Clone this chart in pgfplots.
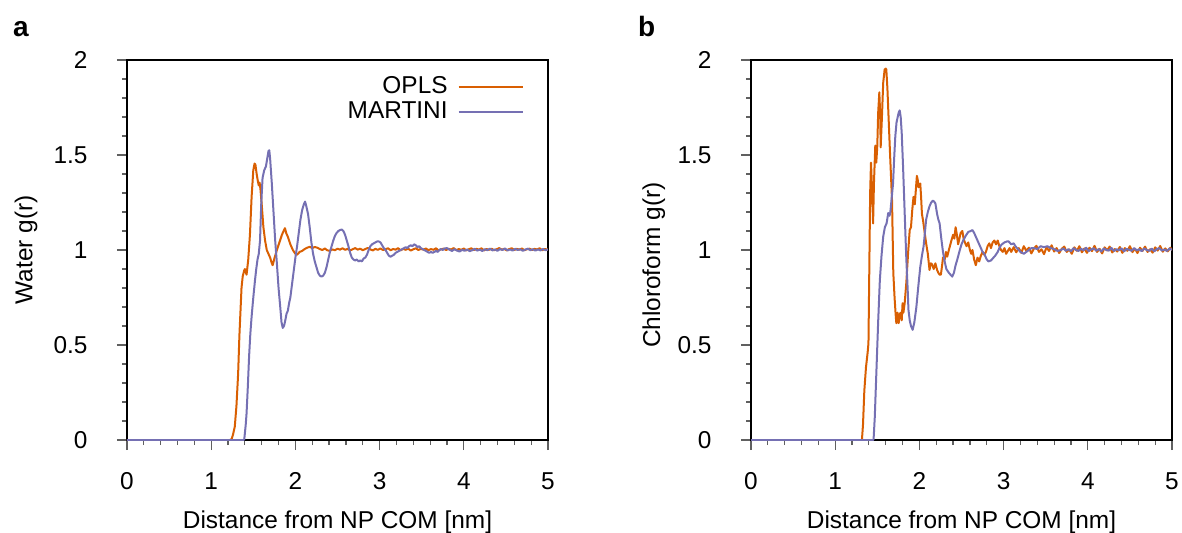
\documentclass[border=0pt]{standalone}
\usepackage{fontspec}
\setmainfont{Liberation Sans}
\usepackage{pgfplots}
\pgfplotsset{compat=1.18}
\definecolor{opls}{HTML}{D95F02}
\definecolor{martini}{HTML}{7570B3}
\pgfplotsset{
  gr/.style={
    scale only axis, width=210.5pt, height=190pt,
    xmin=0, xmax=5, ymin=0, ymax=2,
    xtick={0,1,2,3,4,5}, ytick={0,0.5,1,1.5,2},
    minor x tick num=4, minor y tick num=4,
    tick align=outside, tick pos=left,
    major tick length=5pt, minor tick length=2.5pt,
    tick style={gray!75!black, line width=0.6pt},
    axis line style={line width=0.75pt, black},
    /pgf/number format/assume math mode=true,
    xticklabel style={yshift=-7pt},
    yticklabel style={xshift=-10.5pt},
    xlabel={Distance from NP COM [nm]},
    xlabel style={at={(axis description cs:0.5,-0.2316)}, anchor=base},
    every axis plot/.append style={line width=1pt, line join=round},
  }
}
\begin{document}
\fontsize{12.2}{14.6}\selectfont
\begin{tikzpicture}
\useasboundingbox (-63.5pt,-46pt) rectangle (527.5pt,220pt);
\begin{axis}[gr, at={(0pt,0pt)}, anchor=south west,
  ylabel={Water g(r)},
  ylabel style={at={(axis description cs:-0.240,0.5)}, anchor=center},
  legend style={draw=none, fill=none, at={(rel axis cs:1,1)}, anchor=north east,
    xshift=-9pt, yshift=-4pt, legend cell align=right, row sep=-1.5pt,
    font=\fontsize{12.2}{14.6}\selectfont},
  legend plot pos=right,
  legend image code/.code={\path (0pt,0pt); \draw[#1, line width=1pt] (3pt,0pt) -- (35pt,0pt);},
]
\addplot[opls] table {
0 0
1.22 0
1.243 0.005
1.26 0.03
1.28 0.07
1.30 0.18
1.32 0.35
1.335 0.55
1.35 0.70
1.36 0.80
1.374 0.86
1.39 0.89
1.40 0.90
1.42 0.87
1.44 0.95
1.46 1.08
1.48 1.28
1.50 1.42
1.515 1.455
1.525 1.45
1.54 1.40
1.555 1.36
1.565 1.34
1.575 1.355
1.585 1.32
1.60 1.24
1.62 1.12
1.64 1.05
1.66 1.00
1.68 0.98
1.70 0.96
1.72 0.93
1.73 0.92
1.75 0.955
1.78 1.00
1.81 1.04
1.84 1.08
1.86 1.10
1.876 1.115
1.89 1.09
1.91 1.07
1.94 1.03
1.97 1.00
2.00 0.98
2.02 0.975
2.05 0.99
2.08 0.995
2.11 1.005
2.14 1.012
2.17 1.017
2.20 1.010
2.23 1.016
2.26 1.012
2.29 1.005
2.32 1.000
2.35 1.008
2.38 0.998
2.41 0.996
2.44 1.003
2.47 0.999
2.50 1.007
2.53 1.002
2.56 1.009
2.59 1.001
2.62 1.006
2.65 0.998
2.68 1.004
2.71 1.010
2.74 1.002
2.77 1.007
2.80 0.999
2.83 1.005
2.86 1.011
2.89 1.003
2.92 0.998
2.95 1.006
2.98 1.001
3.01 1.008
3.04 1.000
3.07 1.004
3.10 1.009
3.13 0.999
3.16 1.005
3.19 1.002
3.22 1.010
3.25 0.998
3.28 1.006
3.31 1.001
3.34 1.007
3.37 0.997
3.40 1.004
3.43 1.009
3.46 1.000
3.49 1.006
3.52 1.002
3.55 1.008
3.58 0.999
3.61 1.005
3.64 1.001
3.67 1.009
3.70 0.998
3.73 1.004
3.76 1.007
3.79 1.000
3.82 1.006
3.85 1.003
3.88 1.010
3.91 0.999
3.94 1.005
3.97 1.001
4.00 1.008
4.03 0.998
4.06 1.004
4.09 1.009
4.12 1.000
4.15 1.006
4.18 1.002
4.21 1.009
4.24 0.998
4.27 1.005
4.30 1.001
4.33 1.007
4.36 0.999
4.39 1.004
4.42 1.010
4.45 1.002
4.48 1.006
4.51 0.998
4.54 1.005
4.57 1.009
4.60 1.000
4.63 1.006
4.66 1.002
4.69 1.008
4.72 0.999
4.75 1.004
4.78 1.007
4.81 1.000
4.84 1.006
4.87 1.003
4.90 1.009
4.93 0.999
4.96 1.005
5.00 1.002
};
\addlegendentry{OPLS}
\addplot[martini] table {
0 0
1.385 0
1.393 0.005
1.41 0.08
1.42 0.14
1.435 0.28
1.45 0.44
1.465 0.56
1.48 0.65
1.50 0.75
1.52 0.84
1.535 0.90
1.55 0.95
1.565 0.98
1.58 1.05
1.595 1.25
1.61 1.38
1.63 1.42
1.65 1.44
1.665 1.48
1.68 1.52
1.69 1.525
1.70 1.48
1.72 1.35
1.74 1.20
1.76 1.05
1.78 0.93
1.80 0.80
1.82 0.70
1.835 0.62
1.85 0.59
1.865 0.60
1.88 0.63
1.895 0.665
1.91 0.68
1.925 0.72
1.94 0.75
1.96 0.82
1.98 0.89
2.00 0.96
2.02 1.02
2.04 1.09
2.06 1.16
2.08 1.21
2.10 1.24
2.115 1.255
2.13 1.23
2.15 1.19
2.17 1.12
2.19 1.04
2.21 0.98
2.23 0.94
2.25 0.91
2.27 0.88
2.29 0.865
2.31 0.86
2.33 0.865
2.35 0.88
2.37 0.91
2.39 0.95
2.41 0.99
2.43 1.02
2.45 1.05
2.47 1.075
2.49 1.09
2.51 1.10
2.53 1.105
2.55 1.108
2.57 1.10
2.59 1.08
2.61 1.05
2.63 1.02
2.65 0.985
2.67 0.96
2.69 0.95
2.71 0.945
2.73 0.95
2.75 0.94
2.77 0.945
2.79 0.94
2.81 0.955
2.83 0.96
2.85 0.975
2.87 1.00
2.89 1.02
2.91 1.03
2.93 1.035
2.95 1.04
2.97 1.045
2.99 1.045
3.01 1.04
3.03 1.025
3.05 1.01
3.07 1.00
3.09 0.985
3.11 0.97
3.13 0.965
3.15 0.97
3.17 0.975
3.19 0.985
3.21 0.99
3.23 0.995
3.25 1.00
3.27 1.005
3.29 1.01
3.31 1.015
3.33 1.01
3.35 1.02
3.37 1.025
3.39 1.02
3.41 1.03
3.43 1.025
3.45 1.015
3.47 1.02
3.49 1.01
3.51 1.005
3.53 1.00
3.55 0.995
3.57 0.99
3.59 0.985
3.61 0.99
3.63 0.985
3.65 0.99
3.67 0.995
3.69 0.99
3.71 1.00
3.73 1.005
3.75 1.00
3.77 1.008
3.80 1.010
3.83 1.002
3.86 0.995
3.89 1.004
3.92 0.997
3.95 0.992
3.98 1.001
4.01 0.996
4.04 1.003
4.07 0.994
4.10 0.999
4.13 1.006
4.16 0.997
4.19 1.002
4.22 0.995
4.25 1.004
4.28 0.999
4.31 1.007
4.34 0.998
4.37 1.003
4.40 0.996
4.43 1.005
4.46 1.000
4.49 1.008
4.52 0.998
4.55 1.003
4.58 0.997
4.61 1.006
4.64 1.000
4.67 1.004
4.70 0.996
4.73 1.002
4.76 1.007
4.79 0.999
4.82 1.004
4.85 0.997
4.88 1.003
4.91 0.998
4.94 1.005
4.97 0.999
5.00 1.003
};
\addlegendentry{MARTINI}
\end{axis}
\begin{axis}[gr, at={(312pt,0pt)}, anchor=south west,
  ylabel={Chloroform g(r)},
  ylabel style={at={(axis description cs:-0.231,0.46)}, anchor=center},
]
\addplot[opls] table {
0 0
1.31 0
1.318 0.005
1.33 0.08
1.346 0.26
1.365 0.38
1.385 0.46
1.395 0.51
1.405 0.90
1.415 1.30
1.425 1.46
1.435 1.35
1.45 1.14
1.46 1.35
1.476 1.55
1.488 1.46
1.50 1.55
1.51 1.72
1.524 1.83
1.535 1.70
1.54 1.54
1.555 1.70
1.57 1.88
1.587 1.95
1.60 1.955
1.607 1.95
1.62 1.85
1.63 1.74
1.65 1.52
1.675 1.26
1.69 0.88
1.705 0.75
1.718 0.66
1.726 0.615
1.74 0.67
1.754 0.615
1.765 0.66
1.776 0.67
1.79 0.63
1.80 0.72
1.81 0.67
1.825 0.72
1.845 0.83
1.865 0.98
1.885 1.105
1.90 1.12
1.915 1.21
1.93 1.28
1.945 1.24
1.96 1.33
1.97 1.39
1.98 1.37
1.99 1.33
2.00 1.34
2.01 1.35
2.02 1.28
2.03 1.19
2.045 1.15
2.06 1.10
2.08 1.035
2.10 0.98
2.12 0.895
2.135 0.93
2.15 0.925
2.17 0.90
2.19 0.93
2.21 0.895
2.225 0.88
2.24 0.87
2.255 0.87
2.27 0.92
2.28 0.96
2.30 0.95
2.315 0.99
2.33 0.965
2.35 1.00
2.38 1.05
2.40 1.08
2.415 1.06
2.43 1.12
2.445 1.08
2.46 1.03
2.47 1.05
2.49 1.09
2.51 1.10
2.525 1.06
2.54 1.04
2.56 1.02
2.58 1.04
2.60 1.00
2.615 0.98
2.63 1.00
2.65 0.95
2.67 0.92
2.69 0.96
2.71 0.94
2.73 0.97
2.75 0.99
2.77 0.975
2.79 0.99
2.81 1.02
2.83 1.035
2.85 1.01
2.87 1.04
2.89 1.05
2.91 1.03
2.93 1.05
2.95 1.02
2.97 1.00
2.99 0.99
3.01 1.01
3.03 0.98
3.05 0.995
3.07 1.01
3.09 0.99
3.12 1.015
3.15 0.988
3.18 1.010
3.21 0.985
3.24 1.020
3.27 0.995
3.30 1.012
3.33 0.982
3.36 1.008
3.39 1.022
3.42 0.990
3.45 1.004
3.48 0.978
3.51 1.015
3.54 0.995
3.57 1.025
3.60 0.992
3.63 1.010
3.66 0.984
3.69 1.006
3.72 1.018
3.75 0.990
3.78 1.003
3.81 0.980
3.84 1.014
3.87 0.996
3.90 1.020
3.93 0.988
3.96 1.008
3.99 0.985
4.02 1.012
4.05 0.994
4.08 1.022
4.11 0.990
4.14 1.006
4.17 0.982
4.20 1.014
4.23 0.998
4.26 1.018
4.29 0.987
4.32 1.005
4.35 0.992
4.38 1.016
4.41 0.985
4.44 1.010
4.47 0.996
4.50 1.020
4.53 0.989
4.56 1.007
4.59 0.984
4.62 1.012
4.65 0.995
4.68 1.018
4.71 0.990
4.74 1.004
4.77 0.986
4.80 1.014
4.83 0.997
4.86 1.021
4.89 0.991
4.92 1.008
4.95 0.993
4.98 1.012
5.00 1.000
};
\addplot[martini] table {
0 0
1.45 0
1.456 0.005
1.47 0.12
1.49 0.37
1.51 0.62
1.53 0.84
1.55 0.97
1.57 1.07
1.59 1.12
1.61 1.14
1.63 1.195
1.645 1.18
1.655 1.20
1.67 1.27
1.687 1.35
1.70 1.48
1.714 1.60
1.728 1.67
1.742 1.70
1.755 1.725
1.766 1.735
1.778 1.70
1.79 1.615
1.805 1.45
1.82 1.26
1.835 1.07
1.845 0.95
1.86 0.80
1.87 0.685
1.885 0.63
1.90 0.60
1.92 0.58
1.94 0.62
1.964 0.70
1.985 0.80
2.01 0.91
2.03 0.97
2.05 1.02
2.065 1.09
2.08 1.16
2.10 1.20
2.12 1.23
2.14 1.25
2.16 1.26
2.175 1.255
2.19 1.245
2.21 1.19
2.225 1.16
2.24 1.14
2.26 1.06
2.28 0.99
2.30 0.94
2.32 0.90
2.35 0.88
2.37 0.87
2.39 0.86
2.41 0.88
2.43 0.92
2.45 0.95
2.48 1.00
2.50 1.03
2.52 1.05
2.55 1.075
2.58 1.095
2.61 1.10
2.63 1.105
2.65 1.09
2.67 1.07
2.69 1.05
2.72 1.02
2.75 0.99
2.77 0.98
2.80 0.95
2.82 0.94
2.85 0.945
2.88 0.96
2.90 0.97
2.93 0.99
2.96 1.02
2.98 1.03
3.01 1.04
3.04 1.045
3.06 1.045
3.09 1.03
3.12 1.035
3.14 1.02
3.17 1.005
3.20 0.99
3.24 0.98
3.27 0.99
3.30 1.00
3.33 1.01
3.36 1.01
3.40 1.005
3.44 1.02
3.48 1.015
3.52 1.02
3.56 1.01
3.60 1.005
3.64 0.995
3.68 1.000
3.71 1.008
3.74 0.996
3.77 1.004
3.80 0.993
3.83 1.010
3.86 1.000
3.89 0.995
3.92 1.007
3.95 0.998
3.98 1.012
4.01 0.994
4.04 1.003
4.07 1.009
4.10 0.996
4.13 1.005
4.16 0.992
4.19 1.008
4.22 1.000
4.25 0.997
4.28 1.011
4.31 0.995
4.34 1.004
4.37 0.999
4.40 1.009
4.43 0.993
4.46 1.006
4.49 1.001
4.52 0.996
4.55 1.010
4.58 0.998
4.61 1.004
4.64 0.994
4.67 1.008
4.70 1.000
4.73 0.996
4.76 1.007
4.79 0.993
4.82 1.005
4.85 1.010
4.88 0.997
4.91 1.003
4.94 0.995
4.97 1.008
5.00 1.001
};
\end{axis}
\node[anchor=base, font=\fontsize{14}{16}\selectfont\bfseries] at (-53.1pt,201.75pt) {a};
\node[anchor=base, font=\fontsize{14}{16}\selectfont\bfseries] at (259.8pt,201.75pt) {b};
\end{tikzpicture}
\end{document}
